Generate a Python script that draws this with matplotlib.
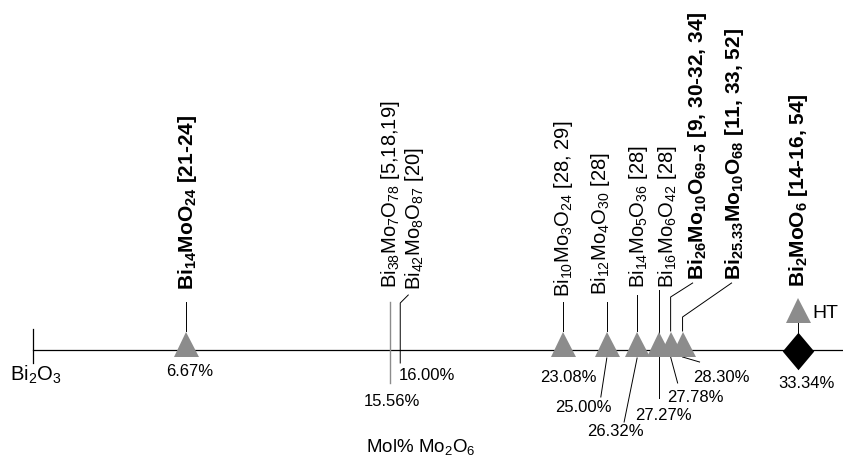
import numpy as np
import matplotlib.pyplot as plt

plt.rcParams['font.family'] = ['Liberation Sans', 'DejaVu Sans']
plt.rcParams['mathtext.default'] = 'regular'

# phases along the Bi2O3 - MoO3 line
mol_pct = [6.67, 15.56, 16.00, 23.08, 25.00, 26.32, 27.27, 27.78, 28.30, 33.34]
pct_text = ['6.67%', '15.56%', '16.00%', '23.08%', '25.00%', '26.32%',
            '27.27%', '27.78%', '28.30%', '33.34%']
phases = ['Bi$_{14}$MoO$_{24}$', 'Bi$_{38}$Mo$_{7}$O$_{78}$', 'Bi$_{42}$Mo$_{8}$O$_{87}$',
          'Bi$_{10}$Mo$_{3}$O$_{24}$', 'Bi$_{12}$Mo$_{4}$O$_{30}$', 'Bi$_{14}$Mo$_{5}$O$_{36}$',
          'Bi$_{16}$Mo$_{6}$O$_{42}$', 'Bi$_{26}$Mo$_{10}$O$_{69\\!-\\!δ}$',
          'Bi$_{25.33}$Mo$_{10}$O$_{68}$', 'Bi$_{2}$MoO$_{6}$']
refs = ['[21-24]', '[5,18,19]', '[20]', '[28, 29]', '[28]', '[28]', '[28]',
        '[9, 30-32, 34]', '[11, 33, 52]', '[14-16, 54]']
bold = [True, False, False, False, False, False, False, True, True, True]
marker = ['tri', None, None, 'tri', 'tri', 'tri', 'tri', 'tri', 'tri', 'dia']

# layout in pixels (offsets from the marker, y measured from top)
W, H = 843, 462
XL, XR = -1.438, 35.29
PXP = W / (XR - XL)
Y0 = 350
label_dx = [1, 0, 14, 1, -6, 1, 9, 27, 52, 0]
label_y = [290, 288, 290, 297, 295, 288, 288, 280, 280, 287]
stems = [[(0, 302), (0, 331)],
         [(0, 302), (0, 383)],
         [(8, 295), (0, 303), (0, 363)],
         [(0, 302), (0, 331)],
         [(0, 302), (0, 331)],
         [(0, 295), (0, 331)],
         [(0, 290), (0, 398)],
         [(22, 283), (0, 297), (0, 331)],
         [(49, 283), (0, 317), (0, 331)],
         [(0, 322), (0, 334)]]
leaders = {4: [(0, 358), (-6, 397)],
           5: [(0, 358), (-13, 422)],
           7: [(0, 357), (7, 383)],
           8: [(0, 357), (17, 362)]}
pct_pos = [(4, 372), (2, 402), (27, 376), (6, 377), (-23, 408), (-22, 432),
           (5, 415), (25, 398), (39, 377), (8, 384)]

GRAY = '#8c8c8c'
diamond = [(0, 1), (0.84, 0), (0, -1), (-0.84, 0), (0, 1)]


def px(x, d):
    return x + d / PXP


fig = plt.figure(figsize=(W / 100, H / 100), dpi=100)
ax = fig.add_axes([0, 0, 1, 1])
ax.set_xlim(XL, XR)
ax.set_ylim(H, 0)
ax.axis('off')

# composition axis
ax.plot([0, XR], [Y0, Y0], color='k', lw=0.9, zorder=1)
ax.plot([0, 0], [329, 363], color='k', lw=0.9, zorder=1)
ax.text(px(0, 3), 375, 'Bi$_2$O$_3$', fontsize=14.5, ha='center', va='center')
ax.text(px(0, 388), 447, 'Mol% Mo$_2$O$_6$', fontsize=13.5, ha='center', va='center')

for i, x in enumerate(mol_pct):
    sx = [px(x, p[0]) for p in stems[i]]
    sy = [p[1] for p in stems[i]]
    ax.plot(sx, sy, color=GRAY if i == 1 else 'k', lw=1.0 if i == 1 else 0.7, zorder=1)
    if i in leaders:
        ax.plot([px(x, p[0]) for p in leaders[i]], [p[1] for p in leaders[i]],
                color='k', lw=0.7, zorder=1)

    if marker[i] == 'tri':
        ax.plot(x, 344, '^', ms=18, color=GRAY, mew=0, zorder=3)
    elif marker[i] == 'dia':
        ax.plot(x, 351, marker=diamond, ms=27, color='k', mew=0, zorder=3)
        ax.plot(x, 310, '^', ms=18, color=GRAY, mew=0, zorder=3)
        ax.text(px(x, 14), 314, 'HT', fontsize=14, ha='left', va='center')

    ax.text(px(x, label_dx[i]), label_y[i], phases[i] + ' ' + refs[i],
            rotation=90, ha='center', va='bottom',
            fontsize=15 if bold[i] else 14.5,
            fontweight='bold' if bold[i] else 'normal')
    ax.text(px(x, pct_pos[i][0]), pct_pos[i][1], pct_text[i],
            fontsize=12, ha='center', va='center')

fig.savefig('out.png', dpi=100)
